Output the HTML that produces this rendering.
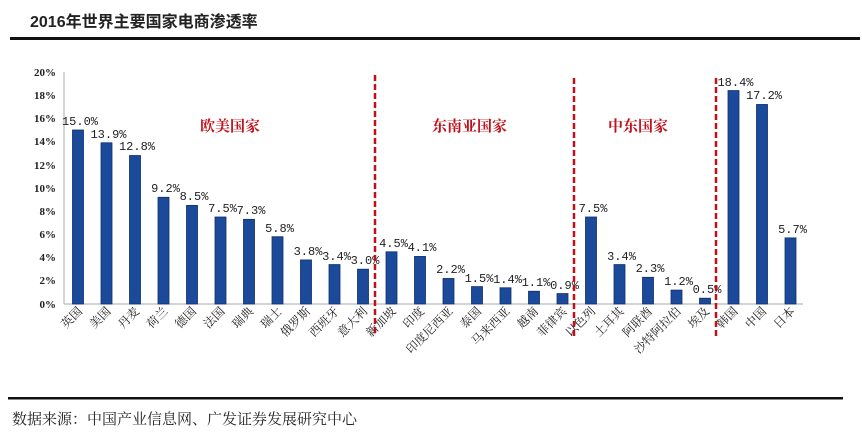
<!DOCTYPE html>
<html><head><meta charset="utf-8"><style>
html,body{margin:0;padding:0;background:#fff;}
svg{display:block;}
</style></head><body>
<svg width="862" height="445" xmlns="http://www.w3.org/2000/svg" font-family="'Liberation Serif','Noto Serif CJK SC',serif">
<text x="30" y="27" font-family="'Liberation Sans','Noto Sans CJK SC',sans-serif" font-size="16" font-weight="bold" fill="#222">2016年世界主要国家电商渗透率</text>
<rect x="10" y="37" width="850" height="3" fill="#111"/>
<rect x="8" y="397" width="835" height="2.5" fill="#111"/>
<text x="12" y="424" font-family="'Noto Serif CJK SC',serif" font-size="15" fill="#222">数据来源：中国产业信息网、广发证券发展研究中心</text>
<g font-size="11" fill="#222" text-anchor="end" font-weight="bold">
<text x="56" y="76">20%</text><text x="56" y="99">18%</text><text x="56" y="122">16%</text><text x="56" y="145">14%</text><text x="56" y="169">12%</text><text x="56" y="192">10%</text><text x="56" y="215">8%</text><text x="56" y="238">6%</text><text x="56" y="261">4%</text><text x="56" y="284">2%</text><text x="56" y="308">0%</text>
</g>
<line x1="64" y1="72" x2="64" y2="304" stroke="#aaa"/>
<line x1="64" y1="304" x2="803" y2="304" stroke="#aaa"/>
<g fill="#1b4a9a" stroke="#0e2f6e" stroke-width="0.8">
<rect x="72.5" y="130" width="11" height="174"/>
<rect x="101" y="142.76" width="11" height="161.24"/>
<rect x="129.5" y="155.52" width="11" height="148.48"/>
<rect x="158" y="197.28" width="11" height="106.72"/>
<rect x="186.5" y="205.4" width="11" height="98.6"/>
<rect x="215" y="217" width="11" height="87"/>
<rect x="243.5" y="219.32" width="11" height="84.68"/>
<rect x="272" y="236.72" width="11" height="67.28"/>
<rect x="300.5" y="259.92" width="11" height="44.08"/>
<rect x="329" y="264.56" width="11" height="39.44"/>
<rect x="357.5" y="269.2" width="11" height="34.8"/>
<rect x="386" y="251.8" width="11" height="52.2"/>
<rect x="414.5" y="256.44" width="11" height="47.56"/>
<rect x="443" y="278.48" width="11" height="25.52"/>
<rect x="471.5" y="286.6" width="11" height="17.4"/>
<rect x="500" y="287.76" width="11" height="16.24"/>
<rect x="528.5" y="291.24" width="11" height="12.76"/>
<rect x="557" y="293.56" width="11" height="10.44"/>
<rect x="585.5" y="217" width="11" height="87"/>
<rect x="614" y="264.56" width="11" height="39.44"/>
<rect x="642.5" y="277.32" width="11" height="26.68"/>
<rect x="671" y="290.08" width="11" height="13.92"/>
<rect x="699.5" y="298.2" width="11" height="5.8"/>
<rect x="728" y="90.56" width="11" height="213.44"/>
<rect x="756.5" y="104.48" width="11" height="199.52"/>
<rect x="785" y="237.88" width="11" height="66.12"/>
</g>
<g font-size="12" fill="#222" text-anchor="middle" font-family="'Liberation Mono',monospace">
<text x="80" y="125">15.0%</text>
<text x="108.5" y="138">13.9%</text>
<text x="137" y="150">12.8%</text>
<text x="165.5" y="192">9.2%</text>
<text x="194" y="200">8.5%</text>
<text x="222.5" y="212">7.5%</text>
<text x="251" y="214">7.3%</text>
<text x="279.5" y="232">5.8%</text>
<text x="308" y="255">3.8%</text>
<text x="336.5" y="260">3.4%</text>
<text x="365" y="264">3.0%</text>
<text x="393.5" y="247">4.5%</text>
<text x="422" y="251">4.1%</text>
<text x="450.5" y="273">2.2%</text>
<text x="479" y="282">1.5%</text>
<text x="507.5" y="283">1.4%</text>
<text x="536" y="286">1.1%</text>
<text x="564.5" y="289">0.9%</text>
<text x="593" y="212">7.5%</text>
<text x="621.5" y="260">3.4%</text>
<text x="650" y="272">2.3%</text>
<text x="678.5" y="285">1.2%</text>
<text x="707" y="293">0.5%</text>
<text x="735.5" y="86">18.4%</text>
<text x="764" y="99">17.2%</text>
<text x="792.5" y="233">5.7%</text>
</g>
<g font-family="'Noto Serif CJK SC',serif" font-size="12" fill="#222" text-anchor="end">
<text transform="translate(83,312) rotate(-45)">英国</text>
<text transform="translate(111.5,312) rotate(-45)">美国</text>
<text transform="translate(140,312) rotate(-45)">丹麦</text>
<text transform="translate(168.5,312) rotate(-45)">荷兰</text>
<text transform="translate(197,312) rotate(-45)">德国</text>
<text transform="translate(225.5,312) rotate(-45)">法国</text>
<text transform="translate(254,312) rotate(-45)">瑞典</text>
<text transform="translate(282.5,312) rotate(-45)">瑞士</text>
<text transform="translate(311,312) rotate(-45)">俄罗斯</text>
<text transform="translate(339.5,312) rotate(-45)">西班牙</text>
<text transform="translate(368,312) rotate(-45)">意大利</text>
<text transform="translate(396.5,312) rotate(-45)">新加坡</text>
<text transform="translate(425,312) rotate(-45)">印度</text>
<text transform="translate(453.5,312) rotate(-45)">印度尼西亚</text>
<text transform="translate(482,312) rotate(-45)">泰国</text>
<text transform="translate(510.5,312) rotate(-45)">马来西亚</text>
<text transform="translate(539,312) rotate(-45)">越南</text>
<text transform="translate(567.5,312) rotate(-45)">菲律宾</text>
<text transform="translate(596,312) rotate(-45)">以色列</text>
<text transform="translate(624.5,312) rotate(-45)">土耳其</text>
<text transform="translate(653,312) rotate(-45)">阿联酋</text>
<text transform="translate(681.5,312) rotate(-45)">沙特阿拉伯</text>
<text transform="translate(710,312) rotate(-45)">埃及</text>
<text transform="translate(738.5,312) rotate(-45)">韩国</text>
<text transform="translate(767,312) rotate(-45)">中国</text>
<text transform="translate(795.5,312) rotate(-45)">日本</text>
</g>
<g stroke="#c0101a" stroke-width="2.5" stroke-dasharray="6,3">
<line x1="375" y1="75" x2="375" y2="336"/>
<line x1="574" y1="78" x2="574" y2="336"/>
<line x1="716" y1="78" x2="716" y2="336"/>
</g>
<g font-family="'Noto Serif CJK SC',serif" font-size="15" font-weight="bold" fill="#c0101a">
<text x="200" y="131">欧美国家</text>
<text x="432" y="131">东南亚国家</text>
<text x="608" y="131">中东国家</text>
</g>
</svg>
</body></html>
